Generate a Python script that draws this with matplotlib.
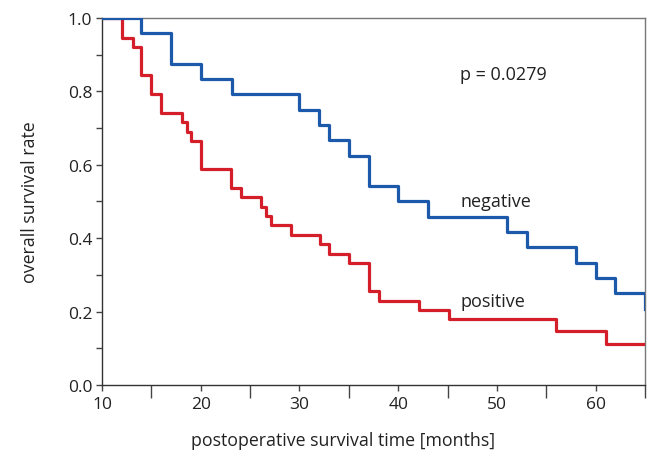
import numpy as np
import matplotlib.pyplot as plt
from matplotlib.ticker import MultipleLocator, FormatStrFormatter

plt.rcParams['font.family'] = ['Open Sans', 'DejaVu Sans']

# Kaplan-Meier step points (time in months, survival at and after that time)
neg_t = [10, 14, 17, 20, 23.2, 30, 32, 33, 35, 37, 40, 43, 51, 53, 58, 60, 62, 65, 65]
neg_s = [1.0, 0.958, 0.875, 0.833, 0.792, 0.75, 0.708, 0.667, 0.625, 0.542, 0.5,
         0.458, 0.417, 0.375, 0.333, 0.292, 0.25, 0.25, 0.208]

pos_t = [10, 12, 13.1, 14, 15, 16, 18.1, 18.6, 19, 20, 23.1, 24.1, 26.1, 26.6, 27.1,
         29.1, 32.1, 33, 35, 37, 38.1, 42.1, 45.1, 56, 61.1, 65]
pos_s = [1.0, 0.945, 0.922, 0.845, 0.792, 0.742, 0.717, 0.690, 0.666, 0.589, 0.537,
         0.511, 0.485, 0.461, 0.436, 0.409, 0.384, 0.358, 0.332, 0.256, 0.230, 0.204,
         0.179, 0.147, 0.113, 0.113]

fig = plt.figure(figsize=(6.53, 4.6), dpi=100)
ax = fig.add_axes([0.1562, 0.1609, 0.8315, 0.7978])

ax.step(pos_t, pos_s, where='post', color='#d41f2a', lw=2.3, zorder=3)
ax.step(neg_t, neg_s, where='post', color='#1d59ab', lw=2.3, zorder=3)

ax.set_xlim(10, 65)
ax.set_ylim(0, 1.0)
ax.xaxis.set_major_locator(MultipleLocator(10))
ax.xaxis.set_minor_locator(MultipleLocator(5))
ax.yaxis.set_major_locator(MultipleLocator(0.2))
ax.yaxis.set_minor_locator(MultipleLocator(0.1))
ax.yaxis.set_major_formatter(FormatStrFormatter('%.1f'))

ax.tick_params(axis='x', which='major', direction='out', length=4, width=1, color='#444', labelsize=12.5, pad=4)
ax.tick_params(axis='x', which='minor', direction='out', length=9, width=1, color='#444')
ax.tick_params(axis='y', which='both', direction='out', length=4, width=1, color='#444', labelsize=12.5, pad=3)
for lbl in ax.get_xticklabels() + ax.get_yticklabels():
    lbl.set_color('#222')

for s in ['left', 'bottom']:
    ax.spines[s].set_color('#333')
    ax.spines[s].set_linewidth(1.0)
for s in ['top', 'right']:
    ax.spines[s].set_color('#777')
    ax.spines[s].set_linewidth(1.0)

ax.set_xlabel('postoperative survival time [months]', fontsize=12.8, color='#222')
ax.xaxis.set_label_coords(0.444, -0.125)
ax.set_ylabel('overall survival rate', fontsize=12.8, labelpad=21, color='#222')

ax.text(46.3, 0.848, 'p = 0.0279', fontsize=13, color='#222', va='center')
ax.text(46.3, 0.502, 'negative', fontsize=13, color='#222', va='center')
ax.text(46.3, 0.230, 'positive', fontsize=13, color='#222', va='center')

fig.savefig('out.png', dpi=100)
